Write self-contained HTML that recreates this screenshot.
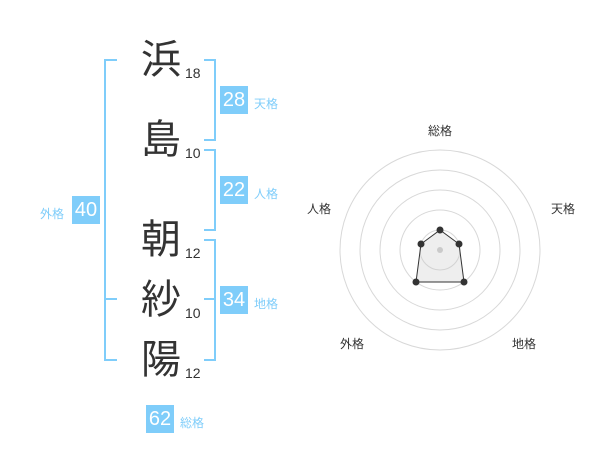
<!DOCTYPE html>
<html><head><meta charset="utf-8"><style>
body{margin:0;width:600px;height:470px;background:#fff;overflow:hidden;position:relative;font-family:"Liberation Sans","Noto Sans CJK JP",sans-serif}
.k{position:absolute;left:141px;font-size:40px;color:#333;line-height:40px}
.n{position:absolute;left:185px;font-size:14px;color:#333}
.b{position:absolute;background:#7fcdfa;color:#fff;font-size:20px;width:28px;height:28px;line-height:28px;text-align:center}
.l{position:absolute;font-size:12px;color:#7fcdfa}
.r{position:absolute;font-size:12px;color:#333}
</style></head><body>
<svg width="600" height="470" style="position:absolute;left:0;top:0">
<g stroke="#7fcdfa" stroke-width="2" fill="none">
<path d="M117 60H105V360H117M105 299H117"/>
<path d="M204 60H215V140H204"/>
<path d="M204 150H215V230H204"/>
<path d="M204 240H215V360H204M204 299H215"/>
</g>
<g stroke="#d8d8d8" fill="none" stroke-width="1">
<circle cx="440" cy="250" r="20"/><circle cx="440" cy="250" r="40"/><circle cx="440" cy="250" r="60"/><circle cx="440" cy="250" r="80"/><circle cx="440" cy="250" r="100"/>
</g>
<circle cx="440" cy="250" r="3" fill="#ccc"/>
<polygon points="440,230 459,244 464,282 416,282 421,244" fill="rgba(200,200,200,0.3)" stroke="#333" stroke-width="1"/>
<g fill="#333"><circle cx="440" cy="230" r="3.5"/><circle cx="459" cy="244" r="3.5"/><circle cx="464" cy="282" r="3.5"/><circle cx="416" cy="282" r="3.5"/><circle cx="421" cy="244" r="3.5"/></g>
</svg>
<div class="k" style="top:40px">浜</div><div class="n" style="top:65px">18</div>
<div class="k" style="top:120px">島</div><div class="n" style="top:145px">10</div>
<div class="k" style="top:220px">朝</div><div class="n" style="top:245px">12</div>
<div class="k" style="top:280px">紗</div><div class="n" style="top:305px">10</div>
<div class="k" style="top:340px">陽</div><div class="n" style="top:365px">12</div>
<div class="b" style="left:220px;top:86px">28</div><div class="l" style="left:254px;top:95px">天格</div>
<div class="b" style="left:220px;top:176px">22</div><div class="l" style="left:254px;top:185px">人格</div>
<div class="b" style="left:220px;top:286px">34</div><div class="l" style="left:254px;top:295px">地格</div>
<div class="b" style="left:72px;top:196px">40</div><div class="l" style="left:40px;top:205px">外格</div>
<div class="b" style="left:146px;top:405px">62</div><div class="l" style="left:180px;top:414px">総格</div>
<div class="r" style="left:428px;top:122px">総格</div>
<div class="r" style="left:551px;top:200px">天格</div>
<div class="r" style="left:307px;top:200px">人格</div>
<div class="r" style="left:340px;top:335px">外格</div>
<div class="r" style="left:512px;top:335px">地格</div>
</body></html>
